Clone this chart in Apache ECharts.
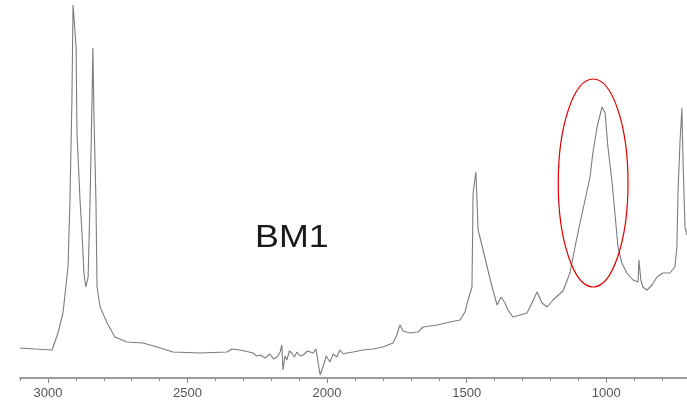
<!DOCTYPE html>
<html>
<head>
<meta charset="utf-8">
<script src="https://cdn.jsdelivr.net/npm/echarts@6/dist/echarts.min.js"></script>
<style>
html,body{margin:0;padding:0;background:#fff;}
#chart{width:687px;height:403px;}
</style>
</head>
<body>
<div id="chart"></div>
<script>
// Wavenumber (cm-1), descending as drawn left -> right
const wavenumbers = [3100,3046,2985,2964,2946,2928,2921,2914,2910,2899,2896,2885,2878,2871,2864,2856,2849,2842,2839,2835,2828,2824,2813,2788,2760,2717,2659,2609,2552,2455,2359,2341,2312,2280,2265,2252,2240,2222,2205,2192,2179,2168,2162,2158,2151,2144,2135,2126,2117,2108,2097,2086,2070,2050,2040,2033,2025,2015,2003,1990,1978,1965,1954,1942,1929,1907,1871,1836,1800,1764,1750,1739,1728,1703,1674,1656,1606,1560,1524,1506,1495,1481,1477,1467,1459,1441,1424,1406,1391,1377,1363,1352,1334,1309,1284,1266,1248,1230,1212,1191,1155,1130,1112,1094,1076,1058,1048,1033,1015,1004,994,979,969,958,944,926,904,886,883,876,869,854,836,818,797,772,754,747,743,736,729,725,718,711];
// Absorbance (arbitrary units)
const absorbance = [30,29,28,45,65,111,178,278,373,331,245,178,145,105,91,101,178,278,330,261,178,91,71,55,41,36,35,31,26,25,26,29,28,26,25,22,23,20,24,19,21,26,33,8,22,18,27,25,21,26,22,23,27,25,29,31,3,11,22,16,24,21,28,24,25,26,28,29,31,35,43,53,47,45,46,51,53,56,58,66,78,91,185,206,148,128,108,88,73,81,75,68,61,63,65,75,86,75,71,78,87,105,131,155,178,201,225,251,271,265,231,195,165,131,115,105,98,96,118,98,91,88,93,101,105,105,111,131,185,235,270,218,151,143];
const majorTicks = [1000,1500,2000,2500,3000];
const sampleLabel = 'BM1';
const highlightCenter = [1047,195];   // wavenumber, absorbance
const highlightHalf = [125,104];      // half-width (cm-1), half-height (a.u.)

const data = wavenumbers.map((w,i)=>[w,absorbance[i]]);
const chart = echarts.init(document.getElementById('chart'));
const axisBase = {type:'value',min:700,max:3100,inverse:true,position:'bottom',splitLine:{show:false}};
chart.setOption({
  animation:false,
  backgroundColor:'#ffffff',
  grid:{left:20,top:0,width:670,height:378,containLabel:false,outerBoundsMode:'none'},
  xAxis:[
    Object.assign({},axisBase,{
      interval:100,
      axisLine:{show:true,lineStyle:{color:'#7a7a7a',width:1.5}},
      axisTick:{show:true,length:3,lineStyle:{color:'#8a8a8a',width:1}},
      axisLabel:{show:true,margin:9,color:'#555',fontSize:13,fontFamily:'Liberation Sans Narrow, Liberation Sans, Arial, sans-serif',
        formatter:v=>(majorTicks.indexOf(v)>=0?String(v):'')}
    }),
    Object.assign({},axisBase,{
      axisLine:{show:false},
      axisLabel:{show:false},
      axisTick:{show:true,length:5,customValues:majorTicks,lineStyle:{color:'#8a8a8a',width:1}}
    })
  ],
  yAxis:{type:'value',min:0,max:378,show:false},
  series:[{
    type:'line',xAxisIndex:0,data:data,showSymbol:false,symbol:'none',
    lineStyle:{color:'#7c7c7c',width:1.1},clip:false
  }]
});
const c = chart.convertToPixel({xAxisIndex:0,yAxisIndex:0},highlightCenter);
const e1 = chart.convertToPixel({xAxisIndex:0,yAxisIndex:0},[highlightCenter[0]-highlightHalf[0],highlightCenter[1]+highlightHalf[1]]);
const tp = chart.convertToPixel({xAxisIndex:0,yAxisIndex:0},[2126,140]);
chart.setOption({
  graphic:[
    {type:'ellipse',shape:{cx:c[0],cy:c[1],rx:Math.abs(e1[0]-c[0]),ry:Math.abs(c[1]-e1[1])},
     style:{fill:'none',stroke:'#e00000',lineWidth:1.2},z:10},
    {type:'text',x:tp[0],y:tp[1],scaleX:1.12,style:{text:sampleLabel,fill:'#1a1a1a',font:'32px "Liberation Sans", Arial, sans-serif',textAlign:'center',textVerticalAlign:'middle'},z:10}
  ]
});
</script>
</body>
</html>
